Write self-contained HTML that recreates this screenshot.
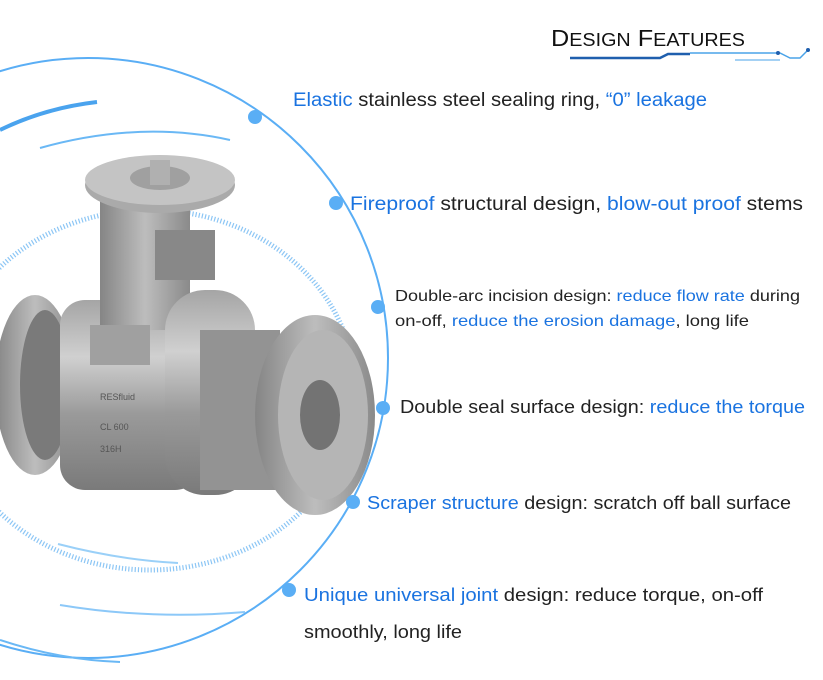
<!DOCTYPE html>
<html><head><meta charset="utf-8"><style>
html,body{margin:0;padding:0;background:#fff;}
svg{display:block;}
text{font-family:"Liberation Sans",sans-serif;}
</style></head><body>
<svg width="823" height="680" viewBox="0 0 823 680" xmlns="http://www.w3.org/2000/svg">
<defs>
<linearGradient id="g1" x1="0" y1="0" x2="0" y2="1">
<stop offset="0" stop-color="#a5a5a5"/><stop offset="0.3" stop-color="#d0d0d0"/><stop offset="0.6" stop-color="#9a9a9a"/><stop offset="1" stop-color="#7a7a7a"/></linearGradient>
<linearGradient id="g2" x1="0" y1="0" x2="1" y2="0">
<stop offset="0" stop-color="#858585"/><stop offset="0.5" stop-color="#bdbdbd"/><stop offset="1" stop-color="#8a8a8a"/></linearGradient>
</defs>
<text x="551" y="46" font-size="23" fill="#111" textLength="194" lengthAdjust="spacingAndGlyphs">D<tspan font-size="18">ESIGN</tspan> F<tspan font-size="18">EATURES</tspan></text>
<path d="M570 58 L660 58 L668 54 L690 54" stroke="#1f5fae" stroke-width="2.5" fill="none"/>
<path d="M690 53 L780 53 L790 58 L800 58 L808 50" stroke="#4aa3e8" stroke-width="1.5" fill="none"/>
<path d="M735 60 L780 60" stroke="#4aa3e8" stroke-width="1" fill="none"/>
<circle cx="778" cy="53" r="2" fill="#1f5fae"/><circle cx="808" cy="50" r="2" fill="#1f5fae"/>
<circle cx="88" cy="358" r="300" fill="none" stroke="#5aaef5" stroke-width="2"/>
<ellipse cx="150" cy="390" rx="205" ry="180" fill="none" stroke="#8cc6f5" stroke-width="5" stroke-dasharray="1.2 2"/>
<path d="M0 130 Q45 108 97 102" stroke="#4aa3ee" stroke-width="4" fill="none"/>
<path d="M40 148 Q140 120 230 140" stroke="#6ab8f5" stroke-width="2" fill="none"/>
<path d="M58 544 Q120 560 178 563" stroke="#9ad0f8" stroke-width="2" fill="none"/>
<path d="M60 605 Q150 620 245 612" stroke="#8cc8f8" stroke-width="2" fill="none"/>
<path d="M0 640 Q60 660 120 662" stroke="#6ab8f5" stroke-width="2" fill="none"/>
<ellipse cx="35" cy="385" rx="40" ry="90" fill="url(#g2)"/>
<ellipse cx="45" cy="385" rx="25" ry="75" fill="#7a7a7a"/>
<rect x="60" y="300" width="140" height="190" rx="25" fill="url(#g1)"/>
<rect x="100" y="195" width="90" height="135" fill="url(#g2)"/>
<rect x="155" y="230" width="60" height="50" fill="#888"/>
<ellipse cx="160" cy="185" rx="75" ry="28" fill="#aaa"/>
<ellipse cx="160" cy="180" rx="75" ry="25" fill="#c4c4c4"/>
<ellipse cx="160" cy="178" rx="30" ry="12" fill="#a0a0a0"/>
<rect x="150" y="160" width="20" height="25" fill="#b0b0b0"/>
<rect x="90" y="325" width="60" height="40" fill="#a0a0a0"/>
<rect x="165" y="290" width="90" height="205" rx="40" fill="url(#g1)"/>
<rect x="200" y="330" width="80" height="160" fill="#939393"/>
<ellipse cx="315" cy="415" rx="60" ry="100" fill="url(#g2)"/>
<ellipse cx="323" cy="415" rx="45" ry="85" fill="#b5b5b5"/>
<ellipse cx="320" cy="415" rx="20" ry="35" fill="#737373"/>
<text x="100" y="400" font-size="9" fill="#555">RESfluid</text>
<text x="100" y="430" font-size="9" fill="#555">CL 600</text>
<text x="100" y="452" font-size="9" fill="#555">316H</text>
<g fill="#5aaef5">
<circle cx="255" cy="117" r="7"/><circle cx="336" cy="203" r="7"/><circle cx="378" cy="307" r="7"/>
<circle cx="383" cy="408" r="7"/><circle cx="353" cy="502" r="7"/><circle cx="289" cy="590" r="7"/>
</g>
<g fill="#222">
<text x="293" y="106" font-size="19" textLength="414" lengthAdjust="spacingAndGlyphs"><tspan fill="#1a73e0">Elastic</tspan> stainless steel sealing ring, <tspan fill="#1a73e0">“0” leakage</tspan></text>
<text x="350" y="210" font-size="19" textLength="453" lengthAdjust="spacingAndGlyphs"><tspan fill="#1a73e0">Fireproof</tspan> structural design, <tspan fill="#1a73e0">blow-out proof</tspan> stems</text>
<text x="395" y="301" font-size="16" textLength="405" lengthAdjust="spacingAndGlyphs">Double-arc incision design: <tspan fill="#1a73e0">reduce flow rate</tspan> during</text>
<text x="395" y="326" font-size="16" textLength="354" lengthAdjust="spacingAndGlyphs">on-off, <tspan fill="#1a73e0">reduce the erosion damage</tspan>, long life</text>
<text x="400" y="413" font-size="18" textLength="405" lengthAdjust="spacingAndGlyphs">Double seal surface design: <tspan fill="#1a73e0">reduce the torque</tspan></text>
<text x="367" y="509" font-size="18" textLength="424" lengthAdjust="spacingAndGlyphs"><tspan fill="#1a73e0">Scraper structure</tspan> design: scratch off ball surface</text>
<text x="304" y="601" font-size="18" textLength="459" lengthAdjust="spacingAndGlyphs"><tspan fill="#1a73e0">Unique universal joint</tspan> design: reduce torque, on-off</text>
<text x="304" y="638" font-size="18" textLength="158" lengthAdjust="spacingAndGlyphs">smoothly, long life</text>
</g>
</svg>
</body></html>
